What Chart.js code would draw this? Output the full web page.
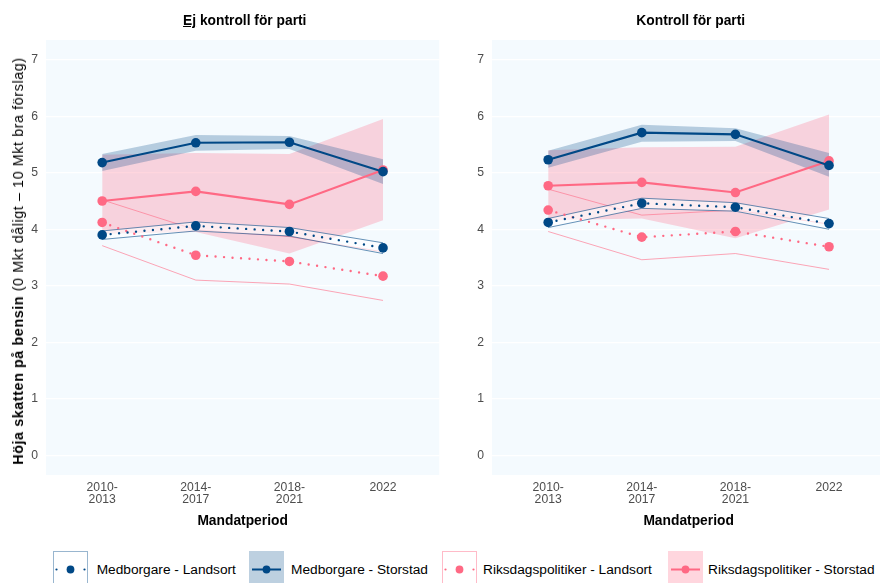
<!DOCTYPE html>
<html><head><meta charset="utf-8">
<script src="https://cdn.jsdelivr.net/npm/chart.js@4.4.1/dist/chart.umd.min.js"></script>
<style>
html,body{margin:0;padding:0;background:#fff;}
body{width:880px;height:583px;overflow:hidden;position:relative;font-family:"Liberation Sans",Arial,sans-serif;}
canvas{position:absolute;top:0;}
#c1{left:0;}
#c2{left:446px;}
.ptitle{position:absolute;top:12px;font-weight:bold;font-size:13.8px;color:#000;text-align:center;width:300px;line-height:18px;white-space:nowrap;}
#ytitle{position:absolute;left:18px;top:261px;transform:translate(-50%,-50%) rotate(-90deg);white-space:nowrap;font-size:14.3px;letter-spacing:0.6px;color:#000;line-height:16px;}
.lg{position:absolute;top:551px;width:35px;height:36px;}
.lg svg{display:block;}
.lgt{position:absolute;top:561px;font-size:13.7px;line-height:18px;white-space:nowrap;color:#000;}
</style></head>
<body>
<canvas id="c1" width="444" height="540"></canvas>
<canvas id="c2" width="444" height="540"></canvas>
<div class="ptitle" style="left:94.75px"><u>Ej</u> kontroll för parti</div>
<div class="ptitle" style="left:540.75px">Kontroll för parti</div>
<div id="ytitle"><b>Höja skatten på bensin</b> (0 Mkt dåligt – 10 Mkt bra förslag)</div>
<div id="legend"></div>
<script>
// ---- tick labels / categories ----
const periodLabels = [['2010-','2013'],['2014-','2017'],['2018-','2021'],'2022'];
const yTicks = [0,1,2,3,4,5,6,7];
const seriesNames = ['Medborgare - Landsort','Medborgare - Storstad','Riksdagspolitiker - Landsort','Riksdagspolitiker - Storstad'];

// ---- Panel 1: Ej kontroll för parti ----
const medLandsortEj    = [3.90, 4.06, 3.96, 3.67];
const medLandsortEjLo  = [3.82, 3.97, 3.88, 3.57];
const medLandsortEjHi  = [3.97, 4.13, 4.03, 3.76];
const medStorstadEj    = [5.18, 5.53, 5.54, 5.02];
const medStorstadEjLo  = [5.03, 5.39, 5.42, 4.80];
const medStorstadEjHi  = [5.33, 5.67, 5.65, 5.24];
const rikLandsortEj    = [4.12, 3.54, 3.43, 3.17];
const rikLandsortEjLo  = [3.71, 3.10, 3.03, 2.74];
const rikLandsortEjHi  = [4.52, 3.99, 3.87, 3.60];
const rikStorstadEj    = [4.50, 4.67, 4.44, 5.05];
const rikStorstadEjLo  = [3.92, 3.95, 3.57, 4.16];
const rikStorstadEjHi  = [5.32, 5.35, 5.33, 5.95];

// ---- Panel 2: Kontroll för parti ----
const medLandsortK    = [4.12, 4.46, 4.39, 4.10];
const medLandsortKLo  = [4.03, 4.37, 4.32, 4.00];
const medLandsortKHi  = [4.19, 4.55, 4.47, 4.19];
const medStorstadK    = [5.23, 5.71, 5.68, 5.13];
const medStorstadKLo  = [5.09, 5.55, 5.56, 4.93];
const medStorstadKHi  = [5.39, 5.85, 5.79, 5.35];
const rikLandsortK    = [4.34, 3.86, 3.96, 3.69];
const rikLandsortKLo  = [3.96, 3.46, 3.57, 3.29];
const rikLandsortKHi  = [4.71, 4.25, 4.34, 4.09];
const rikStorstadK    = [4.77, 4.83, 4.65, 5.21];
const rikStorstadKLo  = [4.16, 4.19, 3.84, 4.35];
const rikStorstadKHi  = [5.40, 5.45, 5.46, 6.03];

// ---- styles ----
const BLUE = '#004886';
const PINK = '#FF6984';
const BLUE_FILL = 'rgba(0,72,134,0.26)';
const PINK_FILL = 'rgba(255,105,132,0.27)';
const BLUE_EDGE = 'rgba(0,72,134,0.75)';
const PINK_EDGE = 'rgba(255,105,132,0.75)';
const CLEAR = 'rgba(0,0,0,0)';
const FONT = '"Liberation Sans", Arial, sans-serif';

const pts = arr => arr.map((v, i) => ({x: i, y: v}));

function ribbon(hi, lo, fillColor, edgeColor, edgeWidth, order) {
  return [
    {data: pts(hi), fill: '+1', backgroundColor: fillColor, borderColor: edgeColor, borderWidth: edgeWidth, pointRadius: 0, order: order + 0.5},
    {data: pts(lo), fill: false, backgroundColor: CLEAR, borderColor: edgeColor, borderWidth: edgeWidth, pointRadius: 0, order: order}
  ];
}
function lineDs(vals, color, dotted, order) {
  return {data: pts(vals), fill: false, borderColor: color, borderWidth: dotted ? 2.4 : 2.1,
    borderDash: dotted ? [0, 8.5] : [], borderCapStyle: dotted ? 'round' : 'butt',
    pointRadius: 4.8, pointBackgroundColor: color, pointBorderWidth: 0, pointBorderColor: color, order: order};
}
function buildDatasets(g) {
  return [
    ...ribbon(g.rikSHi, g.rikSLo, PINK_FILL, CLEAR, 1, 10),
    ...ribbon(g.medSHi, g.medSLo, BLUE_FILL, CLEAR, 1, 9),
    ...ribbon(g.rikLHi, g.rikLLo, 'rgba(255,255,255,0)', PINK_EDGE, 0.8, 8),
    ...ribbon(g.medLHi, g.medLLo, 'rgba(255,255,255,0.6)', BLUE_EDGE, 0.8, 7),
    lineDs(g.rikL, PINK, true, 4),
    lineDs(g.rikS, PINK, false, 3),
    lineDs(g.medL, BLUE, true, 2),
    lineDs(g.medS, BLUE, false, 1)
  ];
}

const panelBg = {id: 'panelBg', beforeDraw(chart) {
  const {ctx, chartArea: a} = chart;
  ctx.save(); ctx.fillStyle = '#F4FAFE';
  ctx.fillRect(a.left, a.top, a.right - a.left, a.bottom - a.top);
  ctx.restore();
}};

function makeChart(id, g) {
  return new Chart(document.getElementById(id), {
    type: 'line',
    data: {datasets: buildDatasets(g)},
    plugins: [panelBg],
    options: {
      responsive: false, animation: false,
      layout: {padding: {top: 40, right: 0.5, bottom: 0, left: 0}},
      plugins: {legend: {display: false}, tooltip: {enabled: false}},
      elements: {line: {tension: 0}},
      scales: {
        x: {type: 'linear', min: -0.6, max: 3.6,
          afterBuildTicks: s => { s.ticks = periodLabels.map((_, i) => ({value: i})); },
          ticks: {callback: (v, i) => periodLabels[i], font: {family: FONT, size: 12.2, lineHeight: 0.97},
            color: '#4D4D4D', padding: 6.5, maxRotation: 0, autoSkip: false},
          grid: {display: false, drawTicks: false},
          border: {display: false},
          title: {display: true, text: 'Mandatperiod', color: '#000',
            font: {family: FONT, size: 13.8, weight: 'bold'}, padding: {top: 4, bottom: 10.5}},
          afterFit: s => { s.height = 65; }
        },
        y: {min: -0.35, max: 7.35,
          afterBuildTicks: s => { s.ticks = yTicks.map(v => ({value: v})); },
          ticks: {callback: v => String(v), font: {family: FONT, size: 12.2}, color: '#4D4D4D', padding: 8},
          grid: {color: '#FFFFFF', lineWidth: 1.2, drawTicks: false, tickLength: 0},
          border: {display: false},
          afterFit: s => { s.width = 46; }
        }
      }
    }
  });
}

makeChart('c1', {
  medL: medLandsortEj, medLLo: medLandsortEjLo, medLHi: medLandsortEjHi,
  medS: medStorstadEj, medSLo: medStorstadEjLo, medSHi: medStorstadEjHi,
  rikL: rikLandsortEj, rikLLo: rikLandsortEjLo, rikLHi: rikLandsortEjHi,
  rikS: rikStorstadEj, rikSLo: rikStorstadEjLo, rikSHi: rikStorstadEjHi
});
makeChart('c2', {
  medL: medLandsortK, medLLo: medLandsortKLo, medLHi: medLandsortKHi,
  medS: medStorstadK, medSLo: medStorstadKLo, medSHi: medStorstadKHi,
  rikL: rikLandsortK, rikLLo: rikLandsortKLo, rikLHi: rikLandsortKHi,
  rikS: rikStorstadK, rikSLo: rikStorstadKLo, rikSHi: rikStorstadKHi
});

// ---- legend ----
const legendBoxLeft = [53, 248.5, 441.5, 668];
const legendTextLeft = [96.7, 291, 483, 708];
const legendColor = [BLUE, BLUE, PINK, PINK];
const legendDotted = [true, false, true, false];
function symbolSvg(i) {
  const c = legendColor[i];
  if (legendDotted[i]) {
    const edge = c === BLUE ? 'rgba(0,72,134,0.4)' : 'rgba(255,105,132,0.45)';
    return `<svg width="35" height="36"><rect x="0.5" y="0.5" width="34" height="35" fill="#fff" stroke="${edge}" stroke-width="1"/>` +
      `<circle cx="3.5" cy="18.5" r="1.1" fill="${c}"/><circle cx="31.5" cy="18.5" r="1.1" fill="${c}"/>` +
      `<circle cx="17.5" cy="18.5" r="3.9" fill="${c}"/></svg>`;
  }
  const fill = c === BLUE ? BLUE_FILL : PINK_FILL;
  return `<svg width="35" height="36"><rect x="0" y="0" width="35" height="36" fill="${fill}"/>` +
    `<line x1="3" y1="18.5" x2="32" y2="18.5" stroke="${c}" stroke-width="2"/>` +
    `<circle cx="17.5" cy="18.5" r="3.9" fill="${c}"/></svg>`;
}
const lg = document.getElementById('legend');
seriesNames.forEach((name, i) => {
  const b = document.createElement('div');
  b.className = 'lg'; b.style.left = legendBoxLeft[i] + 'px';
  b.innerHTML = symbolSvg(i);
  lg.appendChild(b);
  const t = document.createElement('div');
  t.className = 'lgt'; t.style.left = legendTextLeft[i] + 'px';
  t.textContent = name;
  lg.appendChild(t);
});
</script>
</body></html>
